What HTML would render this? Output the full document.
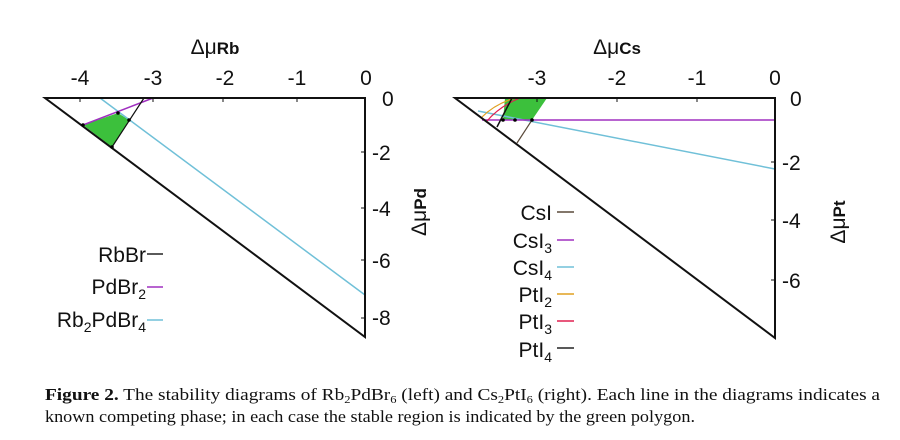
<!DOCTYPE html>
<html><head><style>body{margin:0;background:#fff}svg{display:block}</style></head><body>
<svg width="900" height="440" viewBox="0 0 900 440" xmlns="http://www.w3.org/2000/svg" font-family="Liberation Sans, sans-serif">
<rect width="900" height="440" fill="#fff"/>
<!-- LEFT -->
<g font-size="21" fill="#111">
<text x="215" y="54" text-anchor="middle">Δμ<tspan font-weight="bold" font-size="17">Rb</tspan></text>
<text x="80" y="85" text-anchor="middle">-4</text>
<text x="153" y="85" text-anchor="middle">-3</text>
<text x="225" y="85" text-anchor="middle">-2</text>
<text x="297" y="85" text-anchor="middle">-1</text>
<text x="366" y="85" text-anchor="middle">0</text>
<text x="382" y="106">0</text>
<text x="372" y="160">-2</text>
<text x="372" y="216">-4</text>
<text x="372" y="268">-6</text>
<text x="372" y="325">-8</text>
<text transform="translate(426,212) rotate(-90)" text-anchor="middle">Δμ<tspan font-weight="bold" font-size="17">Pd</tspan></text>
<text x="146" y="262" text-anchor="end">RbBr</text>
<text x="146" y="294" text-anchor="end">PdBr<tspan font-size="14" dy="5">2</tspan></text>
<text x="146" y="327" text-anchor="end">Rb<tspan font-size="14" dy="5">2</tspan><tspan dy="-5">PdBr</tspan><tspan font-size="14" dy="5">4</tspan></text>
</g>
<line x1="147" y1="254" x2="163" y2="254" stroke="#222" stroke-width="1.5"/>
<line x1="147" y1="287" x2="163" y2="287" stroke="#a030c0" stroke-width="1.5"/>
<line x1="147" y1="320" x2="163" y2="320" stroke="#70c0d8" stroke-width="1.5"/>
<polygon points="83,125 118,113 129,120 112,147" fill="#3cc03c"/>
<line x1="100" y1="98" x2="365" y2="295" stroke="#70c0d8" stroke-width="1.5"/>
<line x1="83" y1="125" x2="153" y2="98" stroke="#a030c0" stroke-width="1.5"/>
<line x1="112" y1="147" x2="144" y2="98" stroke="#111" stroke-width="1.2"/>
<polygon points="45,98 365,98 365,337" fill="none" stroke="#111" stroke-width="2"/>
<g stroke="#111" stroke-width="1"><line x1="80" y1="98" x2="80" y2="102"/><line x1="153" y1="98" x2="153" y2="102"/><line x1="223" y1="98" x2="223" y2="102"/><line x1="297" y1="98" x2="297" y2="102"/><line x1="361" y1="152" x2="365" y2="152"/><line x1="361" y1="208" x2="365" y2="208"/><line x1="361" y1="260" x2="365" y2="260"/><line x1="361" y1="318" x2="365" y2="318"/></g>
<g fill="#000"><circle cx="83" cy="125" r="1.8"/><circle cx="118" cy="113" r="1.8"/><circle cx="129" cy="120" r="1.8"/><circle cx="112" cy="147" r="1.8"/></g>
<!-- RIGHT -->
<g font-size="21" fill="#111">
<text x="617" y="54" text-anchor="middle">Δμ<tspan font-weight="bold" font-size="17">Cs</tspan></text>
<text x="537" y="85" text-anchor="middle">-3</text>
<text x="617" y="85" text-anchor="middle">-2</text>
<text x="697" y="85" text-anchor="middle">-1</text>
<text x="775" y="85" text-anchor="middle">0</text>
<text x="790" y="106">0</text>
<text x="782" y="170">-2</text>
<text x="782" y="228">-4</text>
<text x="782" y="288">-6</text>
<text transform="translate(845,222) rotate(-90)" text-anchor="middle">Δμ<tspan font-weight="bold" font-size="17">Pt</tspan></text>
<text x="552" y="220" text-anchor="end">CsI</text>
<text x="552" y="248" text-anchor="end">CsI<tspan font-size="14" dy="5">3</tspan></text>
<text x="552" y="275" text-anchor="end">CsI<tspan font-size="14" dy="5">4</tspan></text>
<text x="552" y="302" text-anchor="end">PtI<tspan font-size="14" dy="5">2</tspan></text>
<text x="552" y="329" text-anchor="end">PtI<tspan font-size="14" dy="5">3</tspan></text>
<text x="552" y="357" text-anchor="end">PtI<tspan font-size="14" dy="5">4</tspan></text>
</g>
<line x1="557" y1="212" x2="574" y2="212" stroke="#5a4a3a" stroke-width="1.5"/>
<line x1="557" y1="240" x2="574" y2="240" stroke="#a030c0" stroke-width="1.5"/>
<line x1="557" y1="267" x2="574" y2="267" stroke="#70c0d8" stroke-width="1.5"/>
<line x1="557" y1="294" x2="574" y2="294" stroke="#e0a020" stroke-width="1.5"/>
<line x1="557" y1="321" x2="574" y2="321" stroke="#e02050" stroke-width="1.5"/>
<line x1="557" y1="348" x2="574" y2="348" stroke="#222" stroke-width="1.5"/>
<polygon points="505,98 547,98 532,120 503,120" fill="#3cc03c"/>
<line x1="478" y1="111" x2="775" y2="169" stroke="#70c0d8" stroke-width="1.5"/>
<line x1="482" y1="120" x2="775" y2="120" stroke="#a030c0" stroke-width="1.5"/>
<line x1="517" y1="143" x2="532" y2="120" stroke="#5a4a3a" stroke-width="1.2"/>
<path d="M482 117 Q495 104 515 98" fill="none" stroke="#e0a020" stroke-width="1.2"/>
<path d="M487 121 Q500 106 520 98" fill="none" stroke="#e02050" stroke-width="1.2"/>
<line x1="497" y1="127" x2="512" y2="98" stroke="#111" stroke-width="1.5"/>
<polygon points="455,98 775,98 775,338" fill="none" stroke="#111" stroke-width="2"/>
<g stroke="#111" stroke-width="1"><line x1="537" y1="98" x2="537" y2="102"/><line x1="617" y1="98" x2="617" y2="102"/><line x1="697" y1="98" x2="697" y2="102"/><line x1="771" y1="162" x2="775" y2="162"/><line x1="771" y1="220" x2="775" y2="220"/><line x1="771" y1="280" x2="775" y2="280"/></g>
<g fill="#000"><circle cx="503" cy="120" r="1.8"/><circle cx="515" cy="120" r="1.8"/><circle cx="532" cy="120" r="1.8"/></g>
<!-- CAPTION -->
<g font-family="Liberation Serif, serif" font-size="17" fill="#111">
<text x="45" y="400" textLength="835" lengthAdjust="spacingAndGlyphs"><tspan font-weight="bold">Figure 2.</tspan>  The stability diagrams of Rb<tspan font-size="11" dy="3">2</tspan><tspan dy="-3">PdBr</tspan><tspan font-size="11" dy="3">6</tspan><tspan dy="-3"> (left) and Cs</tspan><tspan font-size="11" dy="3">2</tspan><tspan dy="-3">PtI</tspan><tspan font-size="11" dy="3">6</tspan><tspan dy="-3"> (right). Each line in the diagrams indicates a</tspan></text>
<text x="45" y="422" textLength="650" lengthAdjust="spacingAndGlyphs">known competing phase; in each case the stable region is indicated by the green polygon.</text>
</g>
</svg>
</body></html>
